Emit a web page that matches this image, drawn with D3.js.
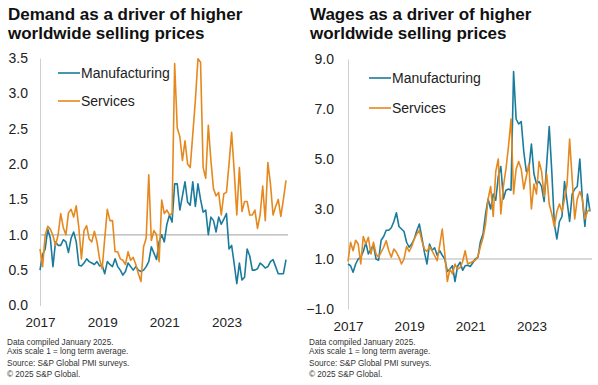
<!DOCTYPE html>
<html>
<head>
<meta charset="utf-8">
<script src="https://cdn.jsdelivr.net/npm/d3@7"></script>
<style>
  html, body { margin: 0; padding: 0; background: #fff; }
  svg { display: block; font-family: "Liberation Sans", Arial, sans-serif; }
</style>
</head>
<body>
<svg id="chart" width="598" height="385"></svg>
<script>
// ---- Data (monthly, Jan 2017 – Dec 2024) ----
const yearTicks = ["2017", "2019", "2021", "2023"];
const yearTickIndex = [0, 24, 48, 72];

const demandTicks = [0, 0.5, 1.0, 1.5, 2.0, 2.5, 3.0, 3.5];
const wagesTicks = [-1, 1, 3, 5, 7, 9];

const demandMfg = [
  0.5, 0.72, 0.8, 1.08, 0.95, 0.55, 0.9, 0.85, 0.85, 0.93, 0.9, 0.75,
  0.95, 1.04, 0.9, 0.57, 0.56, 0.6, 0.66, 0.62, 0.6, 0.58, 0.62, 0.56,
  0.57, 0.45, 0.62, 0.58, 0.55, 0.66, 0.55, 0.5, 0.43, 0.48, 0.6, 0.55,
  0.5, 0.55, 0.5, 0.48, 0.5, 0.55, 0.62, 0.83, 0.74, 0.65, 0.9, 1.0,
  0.9, 1.15, 1.28, 1.18, 1.72, 1.72, 1.35, 1.55, 1.75, 1.46, 1.42, 1.75,
  1.4, 1.72, 1.5, 1.32, 1.35, 1.0, 1.25, 1.2, 1.04, 1.25, 1.15, 1.22,
  1.3, 0.8, 0.85, 0.59, 0.31, 0.6, 0.36, 0.4, 0.8, 0.7, 0.5, 0.5,
  0.52, 0.6, 0.57, 0.53, 0.55, 0.62, 0.65, 0.55, 0.45, 0.45, 0.45, 0.65
];
const demandSvc = [
  0.8, 0.55, 0.99, 1.12, 1.08, 0.99, 0.85, 1.0, 1.3, 1.1, 1.0, 1.31,
  1.36, 1.25, 1.41, 1.1, 0.66, 1.06, 1.13, 0.94, 0.9, 1.05, 0.9, 0.66,
  0.52, 0.95, 1.36, 1.2, 1.2, 0.76, 0.76, 0.66, 0.64, 0.58, 0.76, 0.64,
  0.68, 0.58, 0.45, 0.34, 0.83, 0.95, 1.85, 0.92, 1.06, 1.0, 0.62, 1.49,
  1.3, 1.35, 1.28, 1.3, 3.42, 2.51, 2.39, 2.05, 2.33, 2.0, 1.95, 2.42,
  2.9, 3.49, 3.44, 1.95, 1.8, 2.55, 2.05, 1.65, 1.55, 1.6, 1.28, 1.58,
  1.6, 2.0, 2.45, 1.9, 1.28, 1.95, 1.33, 1.47, 1.47, 1.28, 1.28, 1.35,
  1.09, 1.28, 1.69, 1.2, 2.02, 1.72, 1.28, 1.4, 1.5, 1.26, 1.5, 1.77
];
const wagesMfg = [
  0.8, 0.73, 0.47, 0.8, 1.0, 1.07, 1.3, 1.65, 1.2, 1.4, 1.55, 1.0,
  0.95, 1.75, 1.9, 2.15, 2.15, 2.25, 2.5, 2.85, 2.3, 2.2, 2.1, 1.67,
  1.47, 1.6, 1.8, 2.13, 2.4, 1.85, 1.27, 0.8, 1.6, 1.35, 1.45, 1.15,
  1.33, 1.15, 1.0, 0.5, 0.6, 0.73, 0.1, 0.7, 0.87, 0.55, 0.73, 0.75,
  0.7, 0.85, 1.0, 1.07, 1.7, 2.0, 2.8, 3.4, 3.0, 3.6, 3.35, 4.3,
  4.7, 3.4, 3.75, 3.8, 3.75, 8.5, 6.6, 6.4, 6.5, 5.3, 4.5, 4.6,
  5.6, 4.4, 4.0, 4.1, 3.9, 3.3, 4.8, 6.3, 4.5, 2.4, 1.8, 2.5,
  2.7, 4.1, 3.3, 2.5, 3.6, 3.8, 3.9, 5.0, 3.4, 2.3, 3.6, 2.9
];
const wagesSvc = [
  0.9, 1.67, 1.33, 1.75, 1.6, 0.8, 1.9, 1.6, 1.87, 1.2, 1.67, 1.2,
  1.07, 1.27, 1.47, 1.73, 1.33, 1.07, 1.4, 1.27, 1.07, 0.8, 1.0, 1.5,
  1.3, 1.5, 1.8, 2.0, 2.15, 1.73, 1.4, 1.3, 1.5, 1.33, 1.13, 0.93,
  1.55, 2.2, 1.2, 0.1, 0.6, 0.4, 0.8, 0.6, 0.65, 0.9, 1.33, 0.8,
  0.85, 0.9, 0.95, 1.1, 1.5, 1.85, 2.4, 3.4, 3.9, 2.7, 4.5, 5.0,
  2.8, 3.9, 4.6, 5.5, 6.6, 3.6, 4.6, 4.9, 4.6, 3.8, 4.3, 4.8,
  3.0, 4.0, 3.6, 4.9, 4.5, 3.5, 4.4, 3.2, 2.8, 2.3, 2.9, 3.2,
  2.9, 3.4, 4.0, 5.8, 4.2, 2.6, 3.4, 3.7, 3.4, 2.6, 2.9, 3.0
];

const seriesNames = ["Manufacturing", "Services"];
const colors = ["#1a7b9c", "#e5891e"];
const footnotes = [
  "Data compiled January 2025.",
  "Axis scale 1 = long term average.",
  "Source: S&P Global PMI surveys.",
  "\u00a9 2025 S&P Global."
];

const svg = d3.select("#chart");

function panel(cfg) {
  const g = svg.append("g");
  const x = d3.scaleLinear().domain([0, 95]).range(cfg.xRange);
  const y = d3.scaleLinear().domain(cfg.yDomain).range(cfg.yRange);

  // Title
  const t = g.append("text")
    .attr("x", cfg.titleX).attr("y", 20)
    .attr("font-size", 17).attr("font-weight", "bold").attr("fill", "#111");
  cfg.title.forEach((line, i) => {
    t.append("tspan").attr("x", cfg.titleX).attr("dy", i === 0 ? 0 : 18.5).text(line);
  });

  // Reference line at 1.0
  g.append("line")
    .attr("x1", cfg.xRange[0]).attr("x2", cfg.xRange[1] + 2)
    .attr("y1", y(1)).attr("y2", y(1))
    .attr("stroke", "#b3b3b3").attr("stroke-width", 1.2);

  // Y axis
  const ya = g.append("g")
    .attr("transform", `translate(${cfg.xRange[0]},0)`)
    .call(d3.axisLeft(y).tickValues(cfg.yTicks).tickSize(0).tickPadding(cfg.yPad)
      .tickFormat(d3.format(".1f")));
  ya.select(".domain").attr("stroke", "#cfcfcf").attr("stroke-width", 1);
  ya.selectAll("text").attr("font-size", 14).attr("fill", "#222")
    .attr("font-family", "Liberation Sans, Arial, sans-serif");

  // X axis (labels only)
  const xa = g.append("g")
    .attr("transform", `translate(0,${cfg.yRange[0]})`)
    .call(d3.axisBottom(x).tickValues(yearTickIndex).tickSize(0).tickPadding(12)
      .tickFormat((d, i) => yearTicks[i]));
  xa.select(".domain").remove();
  xa.selectAll("text").attr("font-size", 13.5).attr("fill", "#222")
    .attr("font-family", "Liberation Sans, Arial, sans-serif");

  // Lines
  const line = d3.line().x((d, i) => x(i)).y(d => y(d));
  [cfg.mfg, cfg.svc].forEach((s, k) => {
    g.append("path").datum(s)
      .attr("fill", "none").attr("stroke", colors[k])
      .attr("stroke-width", 1.6).attr("stroke-linejoin", "round")
      .attr("d", line);
  });

  // Legend
  seriesNames.forEach((n, k) => {
    const ly = cfg.legendY[k];
    g.append("line").attr("x1", cfg.legendX).attr("x2", cfg.legendX + 22)
      .attr("y1", ly).attr("y2", ly).attr("stroke", colors[k]).attr("stroke-width", 1.6);
    g.append("text").attr("x", cfg.legendX + 23).attr("y", ly + 5)
      .attr("font-size", 14).attr("fill", "#222").text(n);
  });

  // Footnotes
  const fy = [345, 354, 366, 377];
  footnotes.forEach((f, i) => {
    g.append("text").attr("x", cfg.footX).attr("y", fy[i])
      .attr("font-size", 8.2).attr("fill", "#333").text(f);
  });
}

panel({
  title: ["Demand as a driver of higher", "worldwide selling prices"],
  titleX: 8,
  xRange: [40, 286],
  yDomain: [0, 3.5], yRange: [305.5, 58],
  yTicks: demandTicks, yPad: 12,
  mfg: demandMfg, svc: demandSvc,
  legendX: 58, legendY: [73, 101],
  footX: 7
});

panel({
  title: ["Wages as a driver of higher", "worldwide selling prices"],
  titleX: 310,
  xRange: [348, 590],
  yDomain: [-1, 9], yRange: [309, 59],
  yTicks: wagesTicks, yPad: 14,
  mfg: wagesMfg, svc: wagesSvc,
  legendX: 369, legendY: [78, 108],
  footX: 309
});
</script>
</body>
</html>
